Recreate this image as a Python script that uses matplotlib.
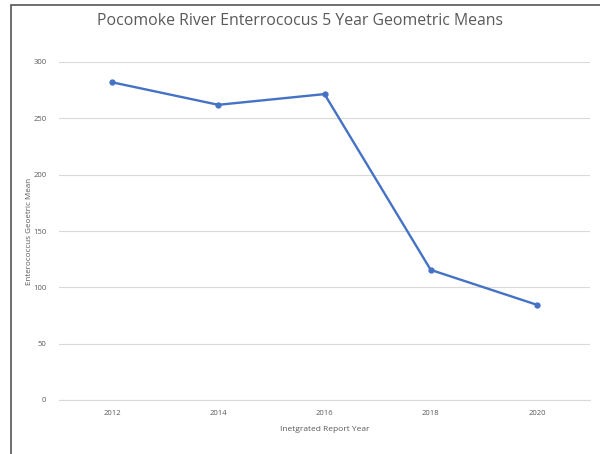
import matplotlib
matplotlib.use("Agg")
import matplotlib.pyplot as plt
from matplotlib.patches import Rectangle

years = ["2012", "2014", "2016", "2018", "2020"]
means = [282, 262, 271.5, 115.5, 84.5]
yticks = [0, 50, 100, 150, 200, 250, 300]

plt.rcParams['font.family'] = ['Open Sans', 'DejaVu Sans']

fig = plt.figure(figsize=(6.0, 4.54), dpi=100)
fig.patch.set_facecolor("white")
# outer border (screenshot frame)
fig.patches.append(Rectangle((10.5/600, -0.01), 1.2, (454-5)/454 + 0.01,
                             transform=fig.transFigure, fill=False,
                             edgecolor="#555555", linewidth=1.2))

ax = fig.add_axes([59/600, (454-400)/454, (590-59)/600, (400-62)/454])
x = list(range(len(years)))
ax.plot(x, means, color="#4472C4", linewidth=1.7, marker="o", markersize=3.5)
ax.set_xlim(-0.5, len(years) - 0.5)
ax.set_ylim(0, 300)
ax.set_yticks(yticks)
ax.set_yticklabels([str(v) for v in yticks])
ax.set_xticks(x)
ax.set_xticklabels(years)
ax.grid(axis="y", color="#d9d9d9", linewidth=0.8)
ax.set_axisbelow(True)
for s in ["top", "right", "left"]:
    ax.spines[s].set_visible(False)
ax.spines["bottom"].set_color("#d9d9d9")
ax.tick_params(axis="both", length=0, labelsize=5.5, colors="#595959")
ax.tick_params(axis="y", pad=9)
ax.tick_params(axis="x", pad=7)
ax.set_xlabel("Inetgrated Report Year", fontsize=6.0, color="#595959", labelpad=7)
ax.set_ylabel("Enterococcus Geoetric Mean", fontsize=5.8, color="#595959", labelpad=0)

fig.text(0.5, (454-21)/454, "Pocomoke River Enterrococus 5 Year Geometric Means",
         ha="center", va="center", fontsize=11.4, color="#595959")

fig.savefig("out.png", dpi=100)
